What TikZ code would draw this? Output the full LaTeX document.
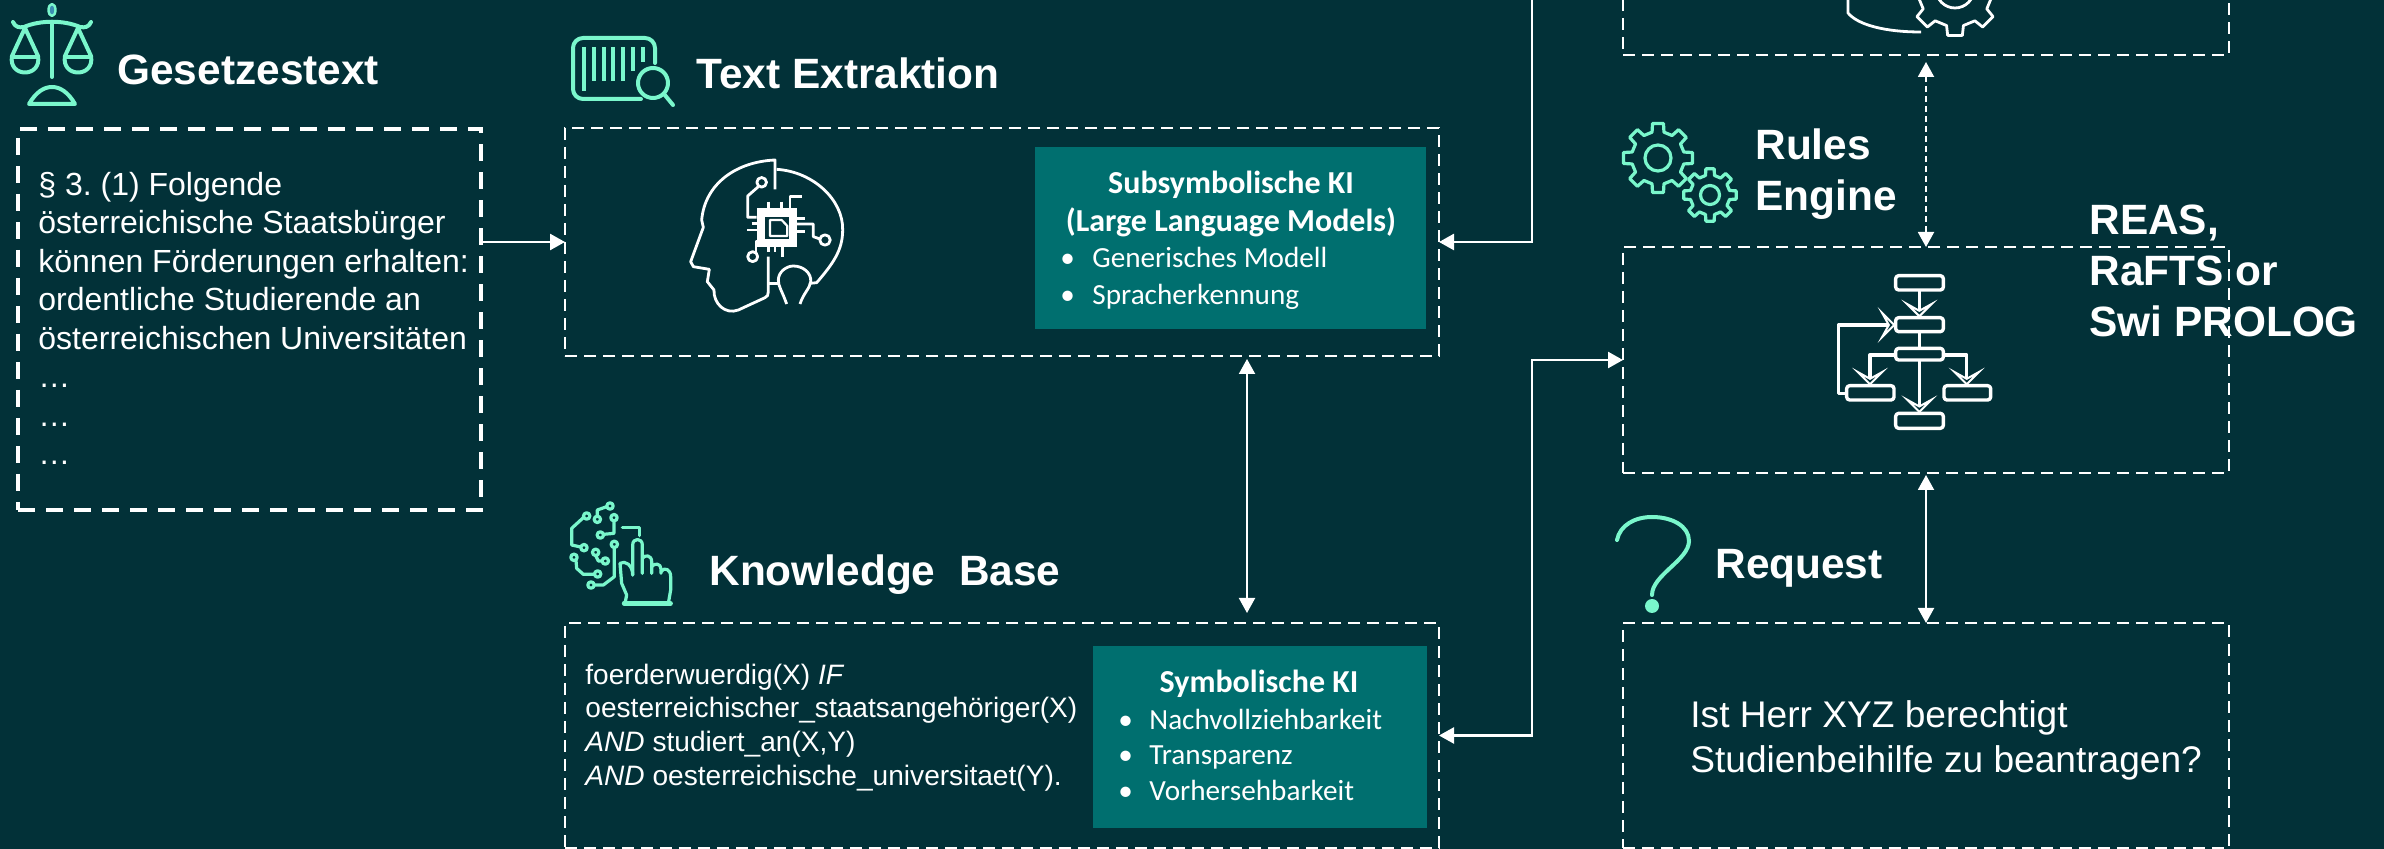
\documentclass[tikz,border=0pt]{standalone}
\usepackage{fontspec}
\setmainfont{Liberation Sans}
\newfontfamily\calibrifont{Carlito}
\usetikzlibrary{arrows.meta,calc}
\definecolor{bgdark}{HTML}{023138}
\definecolor{tealbox}{HTML}{006F6F}
\definecolor{mint}{HTML}{7AF7CC}
\tikzset{
	dashbox/.style={draw=white,line width=1.25pt,dash pattern=on 6pt off 3.5pt,inner sep=0pt,outer sep=0pt},
	lawbox/.style={dashbox,line width=1.75pt,dash pattern=on 8.5pt off 5.5pt},
	kibox/.style={fill=tealbox,inner sep=0pt,outer sep=0pt},
	headline/.style={text=white,anchor=base west,inner sep=0pt,align=left,font=\fontsize{21.2}{25.5}\selectfont\bfseries},
	bodytext/.style={text=white,anchor=base west,inner sep=0pt,align=left},
	kititle/.style={text=white,anchor=base,inner sep=0pt,align=center,font=\fontsize{16}{19}\selectfont\calibrifont\bfseries},
	kiitem/.style={text=white,anchor=base west,inner sep=0pt,font=\fontsize{14.6}{18}\selectfont\calibrifont},
	link/.style={draw=white,line width=1.25pt,-{Triangle[length=7.5pt,width=8pt]}},
	twolink/.style={draw=white,line width=1pt,{Triangle[length=7.5pt,width=8pt]}-{Triangle[length=7.5pt,width=8pt]}},
	mintline/.style={draw=mint,line width=2pt,line cap=round,line join=round},
	whiteline/.style={draw=white,line width=1.4pt,line join=round},
	iconat/.style args={#1/#2}{shift={(#1,#2)},x=0.16667pt,y=-0.16667pt},
}
\newcommand{\gearwheel}[6]{%
	\draw [#6] ($(#1,#2)+(9:#3)$) \foreach \t in {0,45,...,315} {
		-- ($(#1,#2)+(\t+13:#4)$) -- ($(#1,#2)+(\t+32:#4)$) -- ($(#1,#2)+(\t+36:#3)$) -- ($(#1,#2)+(\t+54:#3)$)
	} -- cycle;
	\draw [#6] (#1,#2) circle (#5*0.5pt);
}
\begin{document}
\begin{tikzpicture}[x=0.5pt,y=-0.5pt]
	\useasboundingbox (0,0) rectangle (2384,849);
	\fill [bgdark] (0,0) rectangle (2384,849);
	\clip (0,0) rectangle (2384,849);

	\node [lawbox,minimum width=231.5pt,minimum height=190.5pt] (lawbox) at (249.5,319.5) {};
	\node [dashbox,minimum width=437pt,minimum height=114pt] (extractbox) at (1002,242) {};
	\node [dashbox,minimum width=437pt,minimum height=112.5pt] (kbbox) at (1002,735.5) {};
	\node [dashbox,minimum width=303pt,minimum height=110pt] (dbbox) at (1926,-55) {};
	\node [dashbox,minimum width=303pt,minimum height=113pt] (rulesbox) at (1926,360) {};
	\node [dashbox,minimum width=303pt,minimum height=112.5pt] (requestbox) at (1926,735.5) {};
	\node [kibox,minimum width=195.5pt,minimum height=91pt] (subsymbox) at (1230.5,238) {};
	\node [kibox,minimum width=167pt,minimum height=91pt] (symbox) at (1260,737) {};

	\node [headline] (lawhead) at (117,85) {Gesetzestext};
	\node [headline] (extracthead) at (696,89) {Text Extraktion};
	\node [headline] (kbhead) at (709,586) {Knowledge\ \ Base};
	\node [headline] (ruleshead) at (1755,211) {Rules\\Engine};
	\node [headline] (requesthead) at (1715,579) {Request};
	\node [headline] (enginehead) at (2089,337) {REAS,\\RaFTS or\\Swi PROLOG};

	\node [bodytext,font=\fontsize{16}{19.25}\selectfont] (lawtext) at (38,465) {§ 3.\ (1) Folgende\\österreichische Staatsbürger\\können Förderungen erhalten:\\ordentliche Studierende an\\österreichischen Universitäten\\…\\…\\…};
	\node [bodytext,font=\fontsize{14.05}{16.8}\selectfont] (kbtext) at (585,785) {foerderwuerdig(X) \textit{IF}\\oesterreichischer\_staatsangehöriger(X)\\\textit{AND} studiert\_an(X,Y)\\\textit{AND} oesterreichische\_universitaet(Y).};
	\node [bodytext,font=\fontsize{18.55}{22.5}\selectfont] (requesttext) at (1690,772) {Ist Herr XYZ berechtigt\\Studienbeihilfe zu beantragen?};

	\node [kititle] (subsymtitle) at (1231,232) {Subsymbolische KI\\(Large Language Models)};
	\node [kiitem] (subsymone) at (1060,268) {\makebox[16pt][l]{•}Generisches Modell};
	\node [kiitem] (subsymtwo) at (1060,305) {\makebox[16pt][l]{•}Spracherkennung};
	\node [kititle] (symtitle) at (1259,693) {Symbolische KI};
	\node [kiitem] (symone) at (1118,730) {\makebox[15.5pt][l]{•}Nachvollziehbarkeit};
	\node [kiitem] (symtwo) at (1118,765) {\makebox[15.5pt][l]{•}Transparenz};
	\node [kiitem] (symthree) at (1118,800) {\makebox[15.5pt][l]{•}Vorhersehbarkeit};

	\coordinate (topend) at (1532,-20);
	\coordinate (elbow) at (1532,360);
	\draw [link] (extractbox.west -| lawbox.east) -- (extractbox.west);
	\draw [link] (topend) |- (extractbox.east);
	\draw [link,{Triangle[length=7.5pt,width=8pt]}-{Triangle[length=7.5pt,width=8pt]}] (kbbox.east) -| (elbow) -- (rulesbox.west);
	\draw [twolink,shorten <=1.5pt,shorten >=5pt] ([xshift=122.5pt]extractbox.south) -- ([xshift=122.5pt]kbbox.north);
	\draw [twolink,dash pattern=on 3pt off 2pt,shorten <=3.5pt] (dbbox.south) -- (rulesbox.north);
	\draw [twolink,shorten <=1pt] (rulesbox.south) -- (requestbox.north);

	% scales
	\begin{scope}[mintline]
		\draw [fill=cyan!60!bgdark,line width=1.2pt] (52,10) ellipse (3.5 and 6);
		\draw (52,24) -- (52,77);
		\draw (13,22) .. controls (15,27) and (19,28) .. (24,27) .. controls (40,20) and (64,20) .. (80,27) .. controls (85,28) and (89,27) .. (91,22);
		\draw (25,28) -- (12,56) .. controls (8,78) and (42,78) .. (38,56) -- (25,28);
		\draw (78,28) -- (65,56) .. controls (61,78) and (95,78) .. (91,56) -- (78,28);
		\draw (12,57) -- (38,57) (65,57) -- (91,57);
		\draw (29,104) .. controls (36,92) and (44,87) .. (52,87) .. controls (60,87) and (68,92) .. (75,104) -- cycle;
	\end{scope}

	% barcode
	\begin{scope}[mintline]
		\draw [rounded corners=5pt] (655,63) -- (655,38) -- (573,38) -- (573,99) -- (641,99);
		\foreach \xb/\yb in {584/91,594/81,604/81,613/81,623/81,633/71,643/62}
			\draw [line width=1.8pt,line cap=butt] (\xb,47) -- (\xb,\yb);
		\draw (653,83) circle (7.5pt);
		\draw (664,94) -- (673,105);
	\end{scope}

	% hand on circuit
	\begin{scope}[iconat=560/495,mintline,line width=1.6pt]
		\foreach \xc/\yc in {80/63,72/158,112/73,150/33,162/68,121/120,42/187,113/237,107/172,136/198,163/148,93/270}
			\draw (\xc,\yc) circle (1.6pt);
		\draw (70,68) -- (35,100) -- (35,150) -- (62,156);
		\draw (112,63) -- (112,45) -- (140,35);
		\draw (162,78) -- (162,115) -- (131,118);
		\draw (48,197) -- (50,220) -- (70,238) -- (103,238);
		\draw (107,182) -- (115,198) -- (127,198);
		\draw (163,158) -- (163,245) -- (130,270) -- (103,270);
		\draw (187,98) -- (238,98) -- (238,122);
		\draw (195,325) -- (200,300) -- (185,265) -- (180,205) .. controls (195,195) and (218,210) .. (218,240);
		\draw (218,240) -- (218,150) .. controls (218,128) and (247,128) .. (247,150) -- (247,235);
		\draw (247,190) .. controls (255,178) and (275,180) .. (275,200) -- (275,235);
		\draw (275,215) .. controls (283,203) and (303,205) .. (303,222) -- (303,235);
		\draw (303,230) .. controls (312,215) and (332,222) .. (332,245) -- (332,285) -- (325,325);
		\draw [line width=2.2pt] (192,325) -- (332,325);
	\end{scope}

	% head with chip
	\begin{scope}[iconat=650/140,whiteline]
		\draw (375,148) -- (375,60) .. controls (260,65) and (165,130) .. (155,240) -- (160,262) -- (122,365) -- (130,380) -- (178,388) -- (172,425) -- (192,450) .. controls (190,490) and (225,525) .. (265,510) -- (345,473) .. controls (352,470) and (355,465) .. (355,455) -- (355,350);
		\draw (380,88) .. controls (490,95) and (580,180) .. (578,270) .. controls (578,330) and (550,370) .. (500,428) -- (480,430);
		\draw (355,430) -- (385,430);
		\draw (410,492) .. controls (395,450) and (385,440) .. (385,420) .. controls (385,395) and (410,378) .. (430,378) .. controls (460,378) and (485,400) .. (482,425) .. controls (480,445) and (460,460) .. (450,492);
		\fill [white] (320,203) rectangle (440,320);
		\fill [bgdark] (345,230) rectangle (418,296);
		\draw [line width=1.1pt] (360,240) -- (395,240) -- (412,258) -- (412,288) -- (360,288) -- cycle;
		\draw (335,127) circle (2.4pt) (525,300) circle (2.6pt) (308,350) circle (2.5pt);
		\draw (325,140) -- (293,168) -- (293,232) -- (320,232);
		\draw (440,252) -- (490,252) -- (490,290) -- (510,297);
		\draw (318,338) -- (318,305) -- (322,305);
		\draw (420,205) -- (420,170) -- (455,170);
		\draw (292,270) -- (320,270) (305,250) -- (320,250) (440,235) -- (465,235) (440,275) -- (465,275);
		\draw (355,185) -- (355,205) (395,185) -- (395,205) (355,320) -- (355,335) (375,320) -- (375,335) (397,320) -- (397,352);
	\end{scope}

	% gears
	\gearwheel{1658}{158}{35}{26.5}{13}{mintline,line width=1.6pt}
	\gearwheel{1710}{195}{26.5}{20}{9.5}{mintline,line width=1.6pt}
	\draw [whiteline] (1848,-5) -- (1848,13) .. controls (1858,25) and (1885,32) .. (1921,32);
	\gearwheel{1955}{-11}{47}{37.5}{19}{whiteline}

	% flowchart
	\begin{scope}[iconat=1800/250,whiteline,line width=1.7pt,>={Stealth[open,length=9pt,width=18pt,inset=5pt]}]
		\foreach \xa/\ya/\xe/\ye in {287/77/430/120,287/203/430/245,287/295/430/330,140/407/282/450,432/407/572/450,287/490/430/535}
			\draw [rounded corners=1.5pt] (\xa,\ya) rectangle (\xe,\ye);
		\draw [->] (358,120) -- (358,203);
		\draw [->] (140,430) -- (115,430) -- (115,225) -- (287,225);
		\draw (358,245) -- (358,295);
		\draw [->] (287,315) -- (210,315) -- (210,407);
		\draw [->] (430,315) -- (500,315) -- (500,407);
		\draw [->] (358,330) -- (358,490);
	\end{scope}

	% question mark
	\draw [mintline] (1617,540) .. controls (1620,525) and (1635,517) .. (1652,517) .. controls (1672,517) and (1689,526) .. (1689,541) .. controls (1689,560) and (1652,575) .. (1652,595);
	\fill [mint] (1652,606) circle (3.5pt);
\end{tikzpicture}
\end{document}
